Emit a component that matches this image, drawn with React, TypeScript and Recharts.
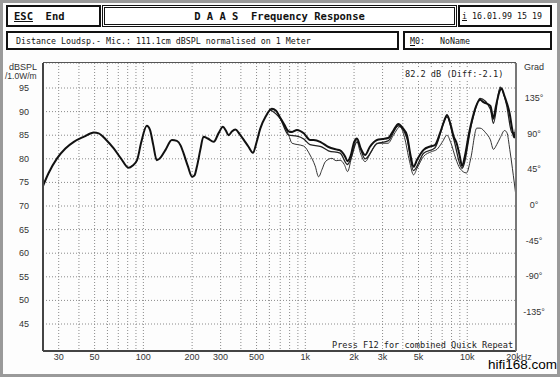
import React from 'react';
import { LineChart, Line, XAxis, YAxis, CartesianGrid } from 'recharts';

// ─── Data ────────────────────────────────────────────────────────────────────

const mainFreq = [
  23.7, 26, 29.3, 33, 37.2, 43, 49.4, 53, 59, 65.6, 73, 81, 86, 91.4, 97, 105, 110, 115, 121, 128,
  137, 150, 161, 170, 177, 188, 200, 207, 214, 225, 235, 250, 272, 292, 310, 323, 336, 352, 370, 392,
  417, 445, 475, 500, 527, 570, 621, 660, 700, 740, 790, 830, 888, 978, 1070, 1126, 1250, 1390, 1550, 1640,
  1760, 1820, 1900, 2000, 2085, 2200, 2339, 2500, 2770, 3000, 3244, 3500, 3756, 4000, 4244, 4450, 4658, 4900, 5375, 5900,
  6310, 6800, 7200, 7500, 7900, 8250, 8600, 9000, 9280, 9700, 10200, 10700, 11300, 12000, 12600, 13900, 14500, 15000, 15960, 16300,
  16900, 17500, 18300, 18900, 19500, 20000,
];
const mainDb = [
  73.8, 77, 80.1, 82.2, 83.6, 84.7, 85.6, 85.4, 84, 82.2, 80, 78.1, 78.6, 79.7, 83.5, 87, 86.1, 83, 79.7, 80.3,
  81.9, 84, 83.8, 82.8, 81.2, 78.5, 76.2, 76.5, 78.3, 82, 84.7, 84.3, 83.6, 85.5, 86.8, 86, 85, 85.8, 86.2, 85.3,
  84, 82.6, 81.3, 83.5, 86.4, 89, 90.6, 90.2, 88.7, 87.3, 85.8, 85.7, 86.1, 85.4, 84, 84, 83.5, 82.5, 82, 81.8,
  80.5, 79.5, 80.5, 83.5, 84.3, 82.2, 80.8, 82.5, 84, 84.2, 84.4, 86, 87.4, 86.5, 85, 81, 78.3, 79.8, 81.9, 82.6,
  82.9, 85.5, 88, 89.3, 87.2, 84.7, 83.3, 80.5, 78.5, 80.8, 85, 88.2, 91, 92.5, 92, 91.2, 88.5, 91, 94.6, 94.9,
  93.5, 92, 89.5, 86.5, 84.5, 86.5,
];

const bundleFreq = [
  600, 700, 790, 888, 978, 1070, 1250, 1390, 1640, 1820, 1900, 2085, 2339, 2770, 3244, 3756, 4244, 4658, 5375, 6310,
  7500, 8250, 9280, 10700, 12000, 13900, 14500, 15960, 17500, 18900, 20000,
];
const bundleDb = [
  90.5, 88.5, 85, 84.8, 84.2, 83, 82.6, 81.7, 81.2, 78.8, 79.8, 83.6, 80, 83.2, 83.8, 87, 84.3, 77.5, 81.2, 82.3,
  88.9, 84.2, 78, 87.8, 92.8, 90.5, 87.5, 95.2, 91.4, 85.5, 85.5,
];

const offAxisFreq = [
  700, 790, 828, 900, 978, 1070, 1150, 1208, 1270, 1330, 1460, 1550, 1640, 1740, 1824, 1920, 2000, 2065, 2200, 2339,
  2550, 2770, 3244, 3500, 3850, 4100, 4400, 4658, 4900, 5375, 6000, 6500, 7000, 7500, 7900, 8500, 9000, 9900, 10500, 11450,
  12000, 13000, 13900, 14500, 15200, 16000, 17000, 17600, 18300, 19000, 19500, 20000,
];
const offAxisDb = [
  88.5, 85, 83.3, 83, 82.7, 80.8, 78.5, 76.2, 77.8, 79.4, 80.1, 79.6, 79.7, 78.8, 77.3, 80, 82.5, 84, 81, 79.4,
  81.5, 83.3, 83.3, 85, 86.8, 84.5, 79.5, 76.6, 78, 80.5, 81.5, 82, 83.5, 85, 83.5, 80, 78, 77, 80, 86.5,
  86.5, 85.5, 84, 82, 83, 84.5, 86, 85.5, 82, 78, 75, 72,
];

const freqTicks = [
  30, 40, 50, 60, 70, 80, 90, 100, 200, 300, 400, 500, 600, 700, 800, 900,
  1000, 2000, 3000, 4000, 5000, 6000, 7000, 8000, 9000, 10000, 20000,
];
const freqLabels: Record<number, string> = {
  30: '30', 50: '50', 100: '100', 200: '200', 300: '300', 500: '500', 1000: '1k',
  2000: '2k', 3000: '3k', 5000: '5k', 10000: '10k', 20000: '20kHz',
};
const dbTicks = [45, 50, 55, 60, 65, 70, 75, 80, 85, 90, 95];
const phaseTicks = [-135, -90, -45, 0, 45, 90, 135];

const toRows = (fs: number[], vs: number[]) => fs.map((f, i) => ({ f, v: vs[i] }));
const mainData = toRows(mainFreq, mainDb);
const bundleData = toRows(bundleFreq, bundleDb);
const offAxisData = toRows(offAxisFreq, offAxisDb);

// ─── Ticks ───────────────────────────────────────────────────────────────────

const tickFont = { fontFamily: '"Liberation Sans", Arial, sans-serif', fontSize: 9, fill: '#333' };

function FreqTick({ x, payload }: any) {
  const label = freqLabels[payload.value];
  if (!label) return null;
  const dx = payload.value === 20000 ? 3 : 0;
  return <text x={x + dx} y={360} textAnchor="middle" style={tickFont}>{label}</text>;
}

function DbTick({ y, payload }: any) {
  return <text x={29} y={y + 3} textAnchor="end" style={tickFont}>{payload.value}</text>;
}

function PhaseTick({ y, payload }: any) {
  return <text x={534} y={y + 3} textAnchor="middle" style={tickFont}>{payload.value}°</text>;
}

// ─── Header boxes ────────────────────────────────────────────────────────────

const mono = '"DejaVu Sans Mono", "Liberation Mono", monospace';

function Box({ left, top, width, height, children, style }: any) {
  return (
    <div style={{
      position: 'absolute', left, top, width, height, boxSizing: 'border-box',
      border: '2px solid #111', background: '#fff', fontFamily: mono, fontSize: 8.3,
      color: '#111', display: 'flex', alignItems: 'center', whiteSpace: 'pre', ...style,
    }}>
      {children}
    </div>
  );
}

export default function App() {
  return (
    <div style={{ position: 'absolute', left: 0, top: 0, width: 560, height: 377, background: '#fdfdfd', overflow: 'hidden' }}>
      <LineChart width={560} height={377} data={mainData} margin={{ top: 63, right: 0, bottom: 0, left: 0 }}>
        <CartesianGrid strokeDasharray="1 2" stroke="#8a8a8a" />
        <XAxis
          dataKey="f" type="number" scale="log" domain={[24, 20000]} allowDataOverflow
          ticks={freqTicks} tick={<FreqTick />} tickLine={false} interval={0}
          height={26} axisLine={{ stroke: '#444', strokeWidth: 2 }}
        />
        <YAxis
          type="number" domain={[39.28, 100.3]} allowDataOverflow ticks={dbTicks}
          tick={<DbTick />} tickLine={false} width={43} axisLine={{ stroke: '#444', strokeWidth: 2 }}
        />
        <YAxis
          yAxisId="deg" orientation="right" type="number" domain={[-184.2, 179.2]} allowDataOverflow
          ticks={phaseTicks} tick={<PhaseTick />} tickLine={false} width={44}
          axisLine={{ stroke: '#777', strokeWidth: 2 }}
        />
        <Line data={offAxisData} dataKey="v" type="monotone" stroke="#333" strokeWidth={1} dot={false} isAnimationActive={false} />
        <Line data={bundleData} dataKey="v" type="monotone" stroke="#222" strokeWidth={1.3} dot={false} isAnimationActive={false} />
        <Line data={mainData} dataKey="v" type="monotone" stroke="#111" strokeWidth={2} dot={false} isAnimationActive={false} />
      </LineChart>

      {/* plot top border */}
      <div style={{ position: 'absolute', left: 43, top: 62, width: 473, height: 1, background: '#555' }} />

      {/* axis captions */}
      <div style={{ position: 'absolute', left: 9, top: 63, ...tickFont, color: '#333', fontSize: 9, lineHeight: '9px' }}>dBSPL</div>
      <div style={{ position: 'absolute', left: 5, top: 72, ...tickFont, color: '#333', fontSize: 8.5, lineHeight: '9px' }}>/1.0W/m</div>
      <div style={{ position: 'absolute', left: 524, top: 63, ...tickFont, color: '#333', fontSize: 9, lineHeight: '9px' }}>Grad</div>

      <div style={{ position: 'absolute', left: 405, top: 69, fontFamily: mono, fontSize: 8.6, color: '#222', background: '#fff', lineHeight: '10px' }}>
        82.2 dB (Diff:-2.1)
      </div>
      <div style={{ position: 'absolute', left: 332, top: 340, fontFamily: mono, fontSize: 8.6, color: '#222', lineHeight: '10px', whiteSpace: 'pre' }}>
        Press F12 for combined Quick Repeat
      </div>

      {/* header */}
      <Box left={6} top={5} width={95} height={22} style={{ paddingLeft: 6, fontSize: 10.5, fontWeight: 'bold' }}>
        <span style={{ textDecoration: 'underline' }}>ESC</span>  End
      </Box>
      <Box left={102} top={5} width={355} height={22} style={{ justifyContent: 'center', fontSize: 10.5, fontWeight: 'bold', border: '3px double #111' }}>
        D A A S  Frequency Response
      </Box>
      <Box left={458} top={5} width={94} height={22} style={{ paddingLeft: 2 }}>
        <span style={{ textDecoration: 'underline' }}>i</span> 16.01.99 15 19
      </Box>
      <Box left={6} top={31} width={393} height={19} style={{ paddingLeft: 8 }}>
        Distance Loudsp.- Mic.: 111.1cm dBSPL normalised on 1 Meter
      </Box>
      <Box left={403} top={31} width={149} height={19} style={{ paddingLeft: 5 }}>
        <span style={{ textDecoration: 'underline' }}>M</span>0:   NoName
      </Box>

      <div style={{ position: 'absolute', left: 488, top: 358, fontFamily: '"Liberation Sans", Arial, sans-serif', fontSize: 13.5, color: '#000', lineHeight: '14px' }}>
        hifi168.com
      </div>

      {/* window frame */}
      <div style={{ position: 'absolute', left: 0, top: 0, width: 560, height: 377, boxSizing: 'border-box', border: '3px solid #9a9a9a', pointerEvents: 'none' }} />
    </div>
  );
}
